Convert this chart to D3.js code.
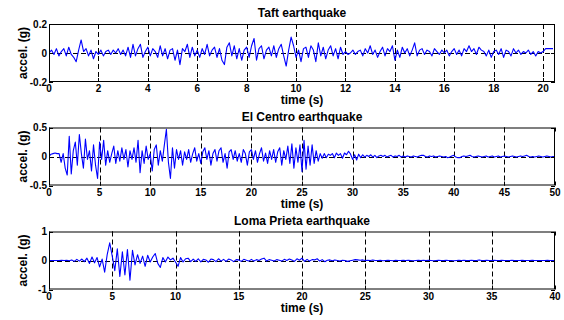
<!DOCTYPE html>
<html>
<head>
<meta charset="utf-8">
<script src="https://cdn.jsdelivr.net/npm/d3@7"></script>
<style>
  body { margin: 0; background: #fff; }
  text { font-family: Arial, "Liberation Sans", sans-serif; font-weight: bold; fill: #000; }
</style>
</head>
<body>
<svg id="chart" width="564" height="320"></svg>
<script>
// acceleration records (g)
const taftDt = 0.1;
const taftAccel = [
  0.00, 0.02, -0.01, 0.03, -0.02, 0.01, 0.03, -0.02, 0.04, -0.01,
  -0.03, -0.06, 0.02, 0.09, 0.01, 0.03, -0.02, 0.02, -0.04, 0.01,
  -0.01, 0.02, -0.02, 0.01, 0.02, -0.01, 0.02, 0.00, 0.03, -0.01,
  0.02, -0.02, 0.04, -0.03, 0.06, -0.02, 0.03, 0.06, -0.03, 0.01,
  0.04, -0.02, 0.03, 0.01, -0.03, 0.05, -0.02, 0.03, -0.04, 0.02,
  0.03, -0.05, 0.02, -0.08, 0.03, 0.01, 0.06, -0.03, 0.04, -0.02,
  0.02, -0.03, 0.03, -0.01, 0.06, -0.02, 0.02, 0.04, -0.03, 0.03,
  -0.05, -0.08, 0.04, 0.07, -0.02, 0.05, -0.04, 0.03, -0.05, 0.02,
  0.04, -0.03, 0.05, 0.10, -0.05, 0.03, 0.05, -0.04, 0.02, 0.04,
  -0.02, 0.05, -0.03, 0.03, 0.06, -0.02, -0.09, 0.02, 0.11, 0.05,
  -0.03, 0.02, -0.06, 0.03, 0.04, -0.03, 0.05, 0.02, -0.06, 0.07,
  -0.02, 0.04, -0.04, 0.02, 0.05, -0.02, 0.03, -0.04, 0.04, -0.01,
  0.01, -0.01, 0.00, 0.02, -0.01, 0.01, 0.02, -0.02, 0.03, 0.00,
  0.05, -0.01, 0.02, -0.03, 0.01, 0.04, -0.02, 0.03, 0.01, 0.05,
  -0.05, 0.02, -0.03, 0.04, 0.00, 0.03, -0.02, 0.02, 0.07, -0.02,
  0.02, 0.03, -0.01, 0.02, 0.01, -0.02, 0.03, 0.01, -0.01, 0.02,
  0.00, 0.02, -0.02, 0.01, 0.03, -0.01, 0.02, -0.02, 0.03, 0.01,
  0.05, 0.01, 0.03, -0.01, 0.04, 0.02, 0.01, -0.02, 0.02, -0.03,
  0.01, 0.02, -0.01, 0.03, -0.03, 0.02, 0.01, -0.02, 0.03, 0.00,
  0.02, -0.01, 0.01, 0.00, 0.02, -0.01, 0.01, -0.02, 0.01, 0.00,
  0.01, 0.03, 0.03, 0.03, 0.03
];

const elCentroDt = 0.2;
const elCentroAccel = [
  0.00, 0.04, 0.05, 0.06, 0.05,
  0.05, -0.10, 0.05, -0.20, -0.32,
  0.35, -0.30, 0.10, 0.25, -0.15,
  0.38, 0.05, -0.20, 0.30, -0.05,
  0.10, -0.25, 0.20, -0.15, -0.38,
  0.25, -0.05, 0.28, -0.15, 0.10,
  -0.10, 0.05, 0.18, -0.12, 0.10,
  -0.08, 0.15, -0.05, 0.12, -0.18,
  0.10, -0.05, 0.15, -0.10, 0.28,
  -0.28, 0.10, -0.12, 0.18, -0.05,
  0.05, -0.25, 0.12, 0.20, -0.15,
  0.10, -0.08, 0.20, 0.47, -0.10,
  -0.38, 0.15, -0.20, 0.12, -0.05,
  0.10, -0.15, 0.08, -0.05, 0.12,
  -0.10, 0.05, 0.15, -0.08, 0.05,
  -0.12, 0.08, 0.15, -0.05, 0.10,
  -0.15, 0.05, 0.12, -0.08, 0.10,
  0.15, -0.10, 0.05, -0.20, 0.08,
  0.12, -0.05, 0.10, -0.08, 0.05,
  -0.10, 0.12, 0.05, -0.15, 0.08,
  0.12, -0.05, 0.10, -0.10, 0.05,
  0.15, -0.08, 0.06, -0.12, 0.10,
  -0.05, 0.12, -0.10, 0.08, 0.15,
  -0.15, 0.10, -0.05, 0.18, -0.12,
  0.22, -0.20, 0.15, -0.10, 0.20,
  -0.26, 0.28, -0.22, 0.18, -0.15,
  0.20, -0.12, 0.10, -0.08, 0.05,
  -0.03, 0.05, -0.02, 0.04, 0.02,
  0.05, -0.02, 0.06, 0.02, 0.05,
  -0.03, 0.06, 0.03, 0.09, 0.04,
  -0.05, 0.03, -0.06, 0.04, -0.02,
  0.03, -0.01, 0.02, 0.00, 0.03,
  -0.01, 0.02, -0.02, 0.01, 0.02,
  0.00, 0.02, -0.01, 0.01, 0.02,
  -0.01, 0.01, 0.00, 0.02, -0.01,
  0.01, -0.01, 0.01, 0.00, -0.01,
  0.01, 0.00, -0.01, 0.01, 0.02,
  0.02, 0.00, -0.01, 0.01, 0.00,
  0.01, -0.01, 0.00, 0.01, 0.00,
  -0.01, 0.00, -0.02, -0.01, 0.01,
  0.02, -0.01, -0.02, -0.02, 0.00,
  0.01, 0.00, 0.01, 0.02, 0.00,
  -0.01, 0.00, 0.01, 0.00, -0.01,
  0.00, 0.01, -0.01, 0.00, 0.01,
  -0.01, 0.00, 0.01, -0.01, 0.00,
  0.01, 0.00, -0.01, 0.00, 0.01,
  0.00, -0.01, 0.00, 0.01, 0.00,
  0.01, 0.02, 0.00, -0.01, 0.00,
  -0.01, 0.00, 0.01, 0.00, -0.01,
  0.00, 0.01, 0.00, -0.01, 0.00,
  0.00
];

const lomaDt = 0.2;
const lomaAccel = [
  0.00, 0.00, 0.00, 0.00, 0.00,
  0.01, 0.00, 0.01, -0.01, 0.02,
  -0.03, 0.04, -0.02, 0.05, -0.04,
  0.08, -0.10, 0.12, -0.08, 0.10,
  -0.22, 0.05, -0.40, 0.20, 0.61,
  0.15, -0.35, 0.40, -0.55, 0.30,
  -0.50, 0.38, -0.68, 0.35, -0.15,
  0.20, -0.10, 0.15, -0.20, 0.18,
  -0.05, 0.12, 0.24, -0.10, -0.24,
  0.10, -0.05, 0.12, 0.02, 0.08,
  -0.05, -0.20, 0.10, -0.05, 0.06,
  0.08, -0.04, 0.05, -0.03, 0.06,
  -0.05, 0.04, 0.02, -0.06, 0.05,
  0.03, -0.04, 0.06, -0.02, 0.04,
  -0.03, 0.05, 0.02, -0.04, 0.03,
  0.02, -0.03, 0.04, 0.01, -0.02,
  0.04, -0.02, 0.03, 0.00, 0.05,
  0.08, -0.02, 0.03, 0.01, -0.02,
  0.03, 0.01, -0.02, 0.04, 0.00,
  0.05, 0.02, -0.03, 0.06, 0.01,
  0.08, -0.03, 0.04, -0.02, 0.03,
  0.02, 0.06, -0.02, 0.03, -0.04,
  0.01, 0.02, -0.01, 0.02, 0.00,
  -0.02, 0.01, 0.00, -0.03, -0.01,
  0.01, 0.03, 0.02, 0.01, 0.02,
  0.00, 0.01, 0.00, 0.02, 0.00,
  0.00, 0.01, -0.01, 0.00, 0.01,
  0.00, -0.01, 0.01, 0.00, 0.00,
  0.01, 0.00, 0.01, 0.00, -0.01,
  0.00, 0.01, 0.00, 0.01, 0.00,
  0.01, 0.00, -0.01, 0.00, 0.01,
  0.00, 0.00, 0.01, 0.00, 0.00,
  -0.01, 0.00, 0.01, 0.00, 0.01,
  0.00, 0.00, 0.01, 0.00, 0.00,
  0.02, 0.00, 0.00, 0.01, 0.00,
  0.00, 0.01, 0.00, 0.00, 0.01,
  0.00, 0.00, 0.00, 0.01, 0.00,
  0.00, 0.00, 0.01, 0.00, 0.00,
  0.00, 0.01, 0.00, 0.00, 0.00,
  0.00, 0.00, 0.01, 0.00, 0.00,
  0.00
];

const titles = ["Taft earthquake", "El Centro earthquake", "Loma Prieta earthquake"];
const xMaxes = [20.48, 50, 40];
const xTicksTaft = [0, 2, 4, 6, 8, 10, 12, 14, 16, 18, 20];
const xTicksElCentro = [0, 5, 10, 15, 20, 25, 30, 35, 40, 45, 50];
const xTicksLoma = [0, 5, 10, 15, 20, 25, 30, 35, 40];
const yTicksTaft = [-0.2, 0, 0.2];
const yTicksElCentro = [-0.5, 0, 0.5];
const yTicksLoma = [-1, 0, 1];

const panels = [
  {title: titles[0], dt: taftDt, values: taftAccel, xMax: xMaxes[0], xTicks: xTicksTaft, yTicks: yTicksTaft},
  {title: titles[1], dt: elCentroDt, values: elCentroAccel, xMax: xMaxes[1], xTicks: xTicksElCentro, yTicks: yTicksElCentro},
  {title: titles[2], dt: lomaDt, values: lomaAccel, xMax: xMaxes[2], xTicks: xTicksLoma, yTicks: yTicksLoma}
];

const svg = d3.select("#chart");
const left = 49, right = 555, h = 58;
const tops = [24, 127.5, 231.5];
const tickLen = 4;

panels.forEach((p, i) => {
  const top = tops[i], bottom = top + h;
  const x = d3.scaleLinear().domain([0, p.xMax]).range([left, right]);
  const y = d3.scaleLinear().domain([p.yTicks[0], p.yTicks[2]]).range([bottom, top]);
  const g = svg.append("g");

  g.append("rect")
    .attr("x", left).attr("y", top).attr("width", right - left).attr("height", h)
    .attr("fill", "#fff");

  // dashed grid
  g.selectAll(".vgrid")
    .data(p.xTicks.filter(t => t > 0 && t < p.xMax))
    .enter().append("line")
    .attr("x1", d => Math.round(x(d)) + 0.5).attr("x2", d => Math.round(x(d)) + 0.5)
    .attr("y1", top).attr("y2", bottom)
    .attr("stroke", "#000").attr("stroke-width", 1).attr("stroke-dasharray", "5,3");
  g.append("line")
    .attr("x1", left).attr("x2", right)
    .attr("y1", Math.round(y(0)) + 0.5).attr("y2", Math.round(y(0)) + 0.5)
    .attr("stroke", "#000").attr("stroke-width", 1).attr("stroke-dasharray", "5,3");

  // signal
  const clipId = "clip" + i;
  g.append("clipPath").attr("id", clipId)
    .append("rect").attr("x", left).attr("y", top).attr("width", right - left).attr("height", h);
  const line = d3.line()
    .x((d, k) => x(k * p.dt))
    .y(d => y(d));
  g.append("path")
    .datum(p.values)
    .attr("clip-path", "url(#" + clipId + ")")
    .attr("fill", "none")
    .attr("stroke", "#0000ff")
    .attr("stroke-width", 1.1)
    .attr("stroke-linejoin", "round")
    .attr("d", line);

  // box
  g.append("rect")
    .attr("x", left + 0.5).attr("y", top + 0.5).attr("width", right - left - 1).attr("height", h - 1)
    .attr("fill", "none").attr("stroke", "#000").attr("stroke-width", 1);

  // inward ticks
  g.selectAll(".xt")
    .data(p.xTicks)
    .enter().append("path")
    .attr("d", d => {
      const xx = Math.round(x(d)) + 0.5;
      return "M" + xx + "," + bottom + "v" + (-tickLen) + "M" + xx + "," + top + "v" + tickLen;
    })
    .attr("stroke", "#000");
  g.selectAll(".yt")
    .data(p.yTicks)
    .enter().append("path")
    .attr("d", d => {
      const yy = Math.round(y(d)) + 0.5;
      return "M" + left + "," + yy + "h" + tickLen + "M" + right + "," + yy + "h" + (-tickLen);
    })
    .attr("stroke", "#000");

  // tick labels
  g.selectAll(".xl")
    .data(p.xTicks)
    .enter().append("text")
    .attr("x", d => x(d))
    .attr("y", bottom + 10)
    .attr("text-anchor", "middle")
    .attr("font-size", 10)
    .text(d => d);
  g.selectAll(".yl")
    .data(p.yTicks)
    .enter().append("text")
    .attr("x", left - 2)
    .attr("y", d => y(d) + 3.5)
    .attr("text-anchor", "end")
    .attr("font-size", 10)
    .text(d => d);

  // titles and labels
  g.append("text")
    .attr("x", (left + right) / 2).attr("y", top - 7)
    .attr("text-anchor", "middle").attr("font-size", 12)
    .text(p.title);
  g.append("text")
    .attr("x", (left + right) / 2).attr("y", bottom + 22)
    .attr("text-anchor", "middle").attr("font-size", 12)
    .text("time (s)");
  g.append("text")
    .attr("transform", "translate(27," + (top + h / 2) + ")rotate(-90)")
    .attr("text-anchor", "middle").attr("font-size", 12)
    .text("accel. (g)");
});
</script>
</body>
</html>
